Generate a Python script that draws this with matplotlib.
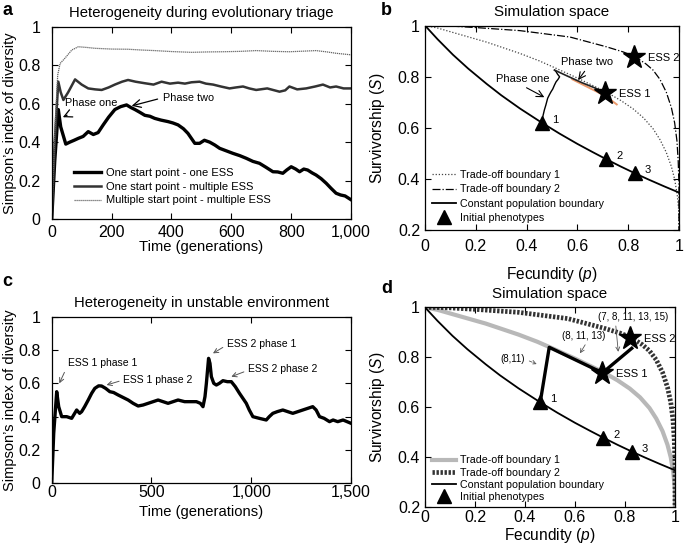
import matplotlib
matplotlib.use("Agg")
import matplotlib.pyplot as plt
from matplotlib.ticker import FuncFormatter

plt.rcParams.update({
    "font.family": "Liberation Sans",
    "font.size": 10,
    "mathtext.fontset": "custom",
    "mathtext.rm": "Liberation Sans",
    "mathtext.it": "Liberation Sans:italic",
    "xtick.direction": "in",
    "ytick.direction": "in",
    "xtick.top": True,
    "ytick.right": True,
    "xtick.major.size": 4,
    "ytick.major.size": 4,
    "xtick.labelsize": 11.5,
    "ytick.labelsize": 11.5,
    "axes.linewidth": 0.9,
})
GRAY = "#555555"

# panel a: Simpson's index over time, three scenarios
a_time1 = [0, 10, 22, 30, 47, 60, 75, 89, 105, 122, 139, 155, 172, 190, 211, 230, 250, 265, 278, 295,
           311, 328, 344, 365, 389, 405, 422, 440, 455, 478, 494, 510, 528, 545, 561, 583, 605, 628, 650, 672,
           694, 715, 739, 755, 772, 785, 800, 815, 828, 842, 855, 870, 883, 900, 917, 933, 950, 965, 980, 990,
           1000]
a_one_ess = [0, 0.30, 0.57, 0.48, 0.39, 0.40, 0.41, 0.42, 0.43, 0.455, 0.44, 0.45, 0.49, 0.53, 0.57, 0.585,
             0.594, 0.58, 0.57, 0.555, 0.54, 0.535, 0.524, 0.515, 0.507, 0.50, 0.49, 0.47, 0.446, 0.394,
             0.394, 0.41, 0.40, 0.385, 0.368, 0.355, 0.342, 0.33, 0.316, 0.30, 0.29, 0.27, 0.246, 0.245,
             0.238, 0.255, 0.272, 0.26, 0.246, 0.26, 0.255, 0.24, 0.229, 0.21, 0.186, 0.16, 0.134, 0.125,
             0.12, 0.11, 0.10]
a_time2 = [0, 10, 22, 30, 39, 55, 78, 100, 122, 145, 167, 190, 211, 235, 255, 280, 311, 340, 367, 395,
           422, 445, 467, 494, 515, 539, 565, 594, 615, 639, 660, 683, 720, 761, 780, 794, 820, 850, 880, 906,
           930, 950, 975, 1000]
a_multi_ess = [0, 0.40, 0.715, 0.66, 0.62, 0.66, 0.727, 0.70, 0.68, 0.675, 0.672, 0.685, 0.70, 0.715, 0.724,
               0.715, 0.707, 0.70, 0.715, 0.705, 0.71, 0.705, 0.712, 0.715, 0.705, 0.70, 0.69, 0.68, 0.685,
               0.69, 0.68, 0.672, 0.68, 0.663, 0.67, 0.69, 0.675, 0.68, 0.69, 0.70, 0.685, 0.69, 0.68, 0.68]
a_time3 = [0, 10, 20, 28, 44, 67, 89, 120, 144, 200, 255, 300, 344, 400, 467, 520, 572, 630, 683, 740,
           794, 840, 883, 920, 950, 1000]
a_multi_start = [0, 0.45, 0.75, 0.81, 0.837, 0.88, 0.897, 0.893, 0.889, 0.885, 0.884, 0.88, 0.877, 0.872,
                 0.868, 0.87, 0.871, 0.873, 0.877, 0.873, 0.871, 0.874, 0.877, 0.87, 0.863, 0.855]

# panel c: unstable environment
c_time = [0, 10, 25, 35, 50, 75, 100, 115, 125, 140, 150, 165, 183, 200, 216, 235, 250, 270, 291, 310,
          333, 358, 383, 408, 433, 458, 483, 508, 533, 558, 583, 608, 633, 666, 700, 725, 745, 758, 768, 775,
          786, 793, 800, 812, 825, 840, 858, 880, 900, 920, 941, 958, 975, 990, 1008, 1040, 1075, 1090, 1108,
          1130, 1158, 1183, 1208, 1233, 1258, 1283, 1308, 1325, 1342, 1365, 1392, 1410, 1433, 1460, 1480, 1500]
c_index = [0, 0.30, 0.55, 0.46, 0.40, 0.40, 0.39, 0.42, 0.44, 0.42, 0.43, 0.46, 0.50, 0.54, 0.57, 0.585,
           0.584, 0.57, 0.55, 0.545, 0.53, 0.515, 0.50, 0.48, 0.464, 0.47, 0.48, 0.49, 0.50, 0.49, 0.48, 0.49,
           0.50, 0.49, 0.49, 0.49, 0.48, 0.46, 0.52, 0.60, 0.75, 0.72, 0.64, 0.60, 0.59, 0.60, 0.616, 0.61,
           0.61, 0.58, 0.54, 0.51, 0.48, 0.44, 0.40, 0.39, 0.38, 0.40, 0.42, 0.43, 0.44, 0.43, 0.42, 0.43,
           0.44, 0.45, 0.46, 0.44, 0.40, 0.39, 0.37, 0.38, 0.37, 0.38, 0.37, 0.36]

# panels b and d: simulation space
const_p = [0, 0.05, 0.11, 0.17, 0.243, 0.3, 0.374, 0.461, 0.53, 0.6, 0.66, 0.714, 0.77, 0.827, 0.88, 0.94, 1.0]
const_s = [1.0, 0.946, 0.886, 0.832, 0.772, 0.728, 0.676, 0.62, 0.578, 0.538, 0.506, 0.478, 0.45, 0.423,
           0.399, 0.373, 0.348]
trade1_p = [0, 0.05, 0.12, 0.243, 0.374, 0.45, 0.516, 0.6, 0.714, 0.77, 0.819, 0.86, 0.898, 0.925, 0.95,
            0.97, 0.983, 0.993, 1.0, 1.0]
trade1_s = [1.0, 0.99, 0.97, 0.935, 0.891, 0.862, 0.833, 0.795, 0.74, 0.708, 0.675, 0.64, 0.597, 0.555,
            0.505, 0.45, 0.40, 0.34, 0.27, 0.2]
trade2_p = [0, 0.1, 0.2, 0.374, 0.571, 0.714, 0.78, 0.827, 0.87, 0.898, 0.925, 0.95, 0.97, 0.983, 0.992,
            0.997, 1.0, 1.0]
trade2_s = [1.0, 0.998, 0.992, 0.98, 0.955, 0.917, 0.897, 0.878, 0.85, 0.826, 0.79, 0.74, 0.68, 0.62, 0.55,
            0.47, 0.38, 0.2]
init_p = [0.461, 0.714, 0.827]
init_s = [0.62, 0.478, 0.423]
init_labels = ["1", "2", "3"]
ess_p = [0.71, 0.822]
ess_s = [0.738, 0.877]
ess_labels = ["ESS 1", "ESS 2"]

b_phase1_p = [0.461, 0.464, 0.47, 0.476, 0.483, 0.49, 0.496, 0.503, 0.51, 0.516, 0.524, 0.53, 0.522, 0.516, 0.51]
b_phase1_s = [0.62, 0.645, 0.67, 0.69, 0.716, 0.73, 0.741, 0.752, 0.768, 0.78, 0.79, 0.80, 0.81, 0.82, 0.826]
b_phase2_p = [0.51, 0.56, 0.62, 0.67, 0.71]
b_phase2_s = [0.826, 0.803, 0.776, 0.756, 0.738]
b_orange_p = [0.58, 0.64, 0.69, 0.72, 0.755]
b_orange_s = [0.79, 0.76, 0.735, 0.718, 0.692]

d_path_p = [0.461, 0.497, 0.71, 0.827]
d_path_s = [0.62, 0.84, 0.738, 0.836]

tick01 = FuncFormatter(lambda v, _: f"{v:g}")
tick_thousands = FuncFormatter(lambda v, _: f"{int(round(v)):,}")


def diversity_axes(ax, xmax, xstep, title, xpad, xlabelpad):
    ax.set_xlim(0, xmax)
    ax.set_ylim(0, 1)
    ax.set_xticks(range(0, xmax + 1, xstep))
    ax.set_yticks([0, 0.2, 0.4, 0.6, 0.8, 1])
    ax.xaxis.set_major_formatter(tick_thousands)
    ax.yaxis.set_major_formatter(tick01)
    ax.tick_params(axis="x", pad=xpad)
    ax.tick_params(axis="y", pad=8)
    ax.set_xlabel("Time (generations)", fontsize=10.6, labelpad=xlabelpad)
    ax.set_ylabel("Simpson\u2019s index of diversity", fontsize=10.5, labelpad=1)
    ax.set_title(title, fontsize=10.7, pad=7)


def space_axes(ax, xpad, xlabelpad):
    ax.set_xlim(0, 1)
    ax.set_ylim(0.2, 1)
    ax.set_xticks([0, 0.2, 0.4, 0.6, 0.8, 1])
    ax.set_yticks([0.2, 0.4, 0.6, 0.8, 1])
    ax.xaxis.set_major_formatter(tick01)
    ax.yaxis.set_major_formatter(tick01)
    ax.tick_params(axis="x", pad=xpad)
    ax.tick_params(axis="y", pad=3.5)
    ax.set_xlabel("Fecundity ($p$)", fontsize=11.2, labelpad=xlabelpad)
    ax.set_ylabel("Survivorship ($S$)", fontsize=11.2, labelpad=8)
    ax.set_title("Simulation space", fontsize=10.9, pad=7)


def common_marks(ax):
    ax.plot(const_p, const_s, color="black", lw=1.3, label="Constant population boundary")
    ax.plot(init_p, init_s, "^", color="black", ms=10, label="Initial phenotypes", zorder=5)
    for x, y, lab in zip(init_p, init_s, init_labels):
        ax.annotate(lab, xy=(x, y), xytext=(7, 0), textcoords="offset points", fontsize=8)
    ax.plot(ess_p, ess_s, "*", color="black", ms=17, zorder=6)
    for x, y, lab in zip(ess_p, ess_s, ess_labels):
        ax.annotate(lab, xy=(x, y), xytext=(10, -3), textcoords="offset points", fontsize=8)


fig = plt.figure(figsize=(6.85, 5.45), dpi=100)

# a
ax = fig.add_axes([0.0755, 0.5982, 0.437, 0.3523])
ax.plot(a_time1, a_one_ess, color="black", lw=2.4, label="One start point - one ESS")
ax.plot(a_time2, a_multi_ess, color="#333333", lw=1.8, label="One start point - multiple ESS")
ax.plot(a_time3, a_multi_start, color="#666666", lw=0.9, ls=(0, (1, 0.6)),
        label="Multiple start point - multiple ESS")
diversity_axes(ax, 1000, 200, "Heterogeneity during evolutionary triage", xpad=4, xlabelpad=0)
arrow_a = dict(arrowstyle="->", color="black", lw=0.9, mutation_scale=14)
ax.annotate("Phase one", xy=(37, 0.53), xytext=(44, 0.605), fontsize=7.8, va="center",
            arrowprops=dict(arrow_a, shrinkA=8, shrinkB=0, relpos=(0.35, 0)))
ax.annotate("Phase two", xy=(267, 0.589), xytext=(372, 0.632), fontsize=7.8, va="center",
            arrowprops=dict(arrow_a, shrinkA=2, shrinkB=0, relpos=(0, 0.5)))
ax.legend(loc="lower left", bbox_to_anchor=(0.05, 0.03), frameon=False, fontsize=8,
          handlelength=2.4, labelspacing=0.35, borderpad=0.2, handletextpad=0.4)

# b
ax = fig.add_axes([0.6204, 0.5771, 0.3708, 0.3761])
ax.plot(trade1_p, trade1_s, color="#444444", lw=0.9, ls=(0, (1, 1.5)), label="Trade-off boundary 1")
ax.plot(trade2_p, trade2_s, color="black", lw=0.9, ls="-.", label="Trade-off boundary 2")
ax.plot(b_orange_p, b_orange_s, color="#eb9a6c", lw=1.4, zorder=3)
ax.plot(b_phase1_p, b_phase1_s, color="black", lw=1.0, zorder=4)
ax.plot(b_phase2_p, b_phase2_s, color="#222222", lw=1.2, zorder=4)
common_marks(ax)
space_axes(ax, xpad=6, xlabelpad=8)
arrow_b = dict(arrowstyle="->", color="black", lw=0.8, mutation_scale=12, shrinkA=1, shrinkB=0)
ax.annotate("Phase one", xy=(0.47, 0.72), xytext=(0.385, 0.79), fontsize=8, ha="center",
            va="center", arrowprops=dict(arrow_b, relpos=(0.45, 0)))
ax.annotate("Phase two", xy=(0.603, 0.787), xytext=(0.64, 0.856), fontsize=8, ha="center",
            va="center", arrowprops=dict(arrow_b, relpos=(0.5, 0)))
handles, labels = ax.get_legend_handles_labels()
ax.legend(handles, labels, loc="lower left", bbox_to_anchor=(0.0, 0.0), frameon=False,
          fontsize=7.7, handlelength=2.2, labelspacing=0.4, borderpad=0.2, handletextpad=0.4)

# c
ax = fig.add_axes([0.0755, 0.1132, 0.437, 0.3057])
ax.plot(c_time, c_index, color="black", lw=2.4)
diversity_axes(ax, 1500, 500, "Heterogeneity in unstable environment", xpad=1.5, xlabelpad=3)
arrow_c = dict(arrowstyle="->", color=GRAY, lw=0.7, mutation_scale=8, shrinkA=1, shrinkB=0)
ax.annotate("ESS 1 phase 1", xy=(38, 0.60), xytext=(254, 0.72), fontsize=7.5, ha="center",
            va="center", arrowprops=dict(arrow_c, relpos=(0.0, 0.3)))
ax.annotate("ESS 1 phase 2", xy=(275, 0.59), xytext=(532, 0.62), fontsize=7.5, ha="center",
            va="center", arrowprops=dict(arrow_c, relpos=(0.0, 0.5)))
ax.annotate("ESS 2 phase 1", xy=(808, 0.78), xytext=(1051, 0.836), fontsize=7.5, ha="center",
            va="center", arrowprops=dict(arrow_c, relpos=(0.0, 0.4)))
ax.annotate("ESS 2 phase 2", xy=(900, 0.64), xytext=(1157, 0.684), fontsize=7.5, ha="center",
            va="center", arrowprops=dict(arrow_c, relpos=(0.0, 0.4)))

# d
ax = fig.add_axes([0.6204, 0.0692, 0.365, 0.3669])
ax.plot(trade1_p, trade1_s, color="#b8b8b8", lw=3.0, label="Trade-off boundary 1")
ax.plot(trade2_p, trade2_s, color="#333333", lw=3.4, ls=(0, (0.5, 0.35)), label="Trade-off boundary 2")
ax.plot(d_path_p, d_path_s, color="black", lw=2.4, zorder=4)
common_marks(ax)
space_axes(ax, xpad=2, xlabelpad=0.5)
arrow_d = dict(arrowstyle="->", color=GRAY, lw=0.6, mutation_scale=7, shrinkA=1, shrinkB=0)
ax.annotate("(7, 8, 11, 13, 15)", xy=(0.773, 0.822), xytext=(0.832, 0.962), fontsize=7,
            ha="center", va="center", arrowprops=dict(arrow_d, relpos=(0.25, 0)))
ax.annotate("(8, 11, 13)", xy=(0.62, 0.816), xytext=(0.633, 0.886), fontsize=7,
            ha="center", va="center", arrowprops=dict(arrow_d, relpos=(0.6, 0)))
ax.annotate("(8,11)", xy=(0.447, 0.773), xytext=(0.352, 0.792), fontsize=7,
            ha="center", va="center", arrowprops=dict(arrow_d, ls="--", relpos=(1, 0.5)))
handles, labels = ax.get_legend_handles_labels()
ax.legend(handles, labels, loc="lower left", bbox_to_anchor=(0.0, -0.01), frameon=False,
          fontsize=7.7, handlelength=2.2, labelspacing=0.2, borderpad=0.2, handletextpad=0.4)

for letter, x, y in [("a", 0.004, 0.98), ("b", 0.556, 0.98), ("c", 0.004, 0.483), ("d", 0.556, 0.47)]:
    fig.text(x, y, letter, fontsize=13, fontweight="bold", va="center")

fig.savefig("out.png", dpi=100)
plt.close(fig)
